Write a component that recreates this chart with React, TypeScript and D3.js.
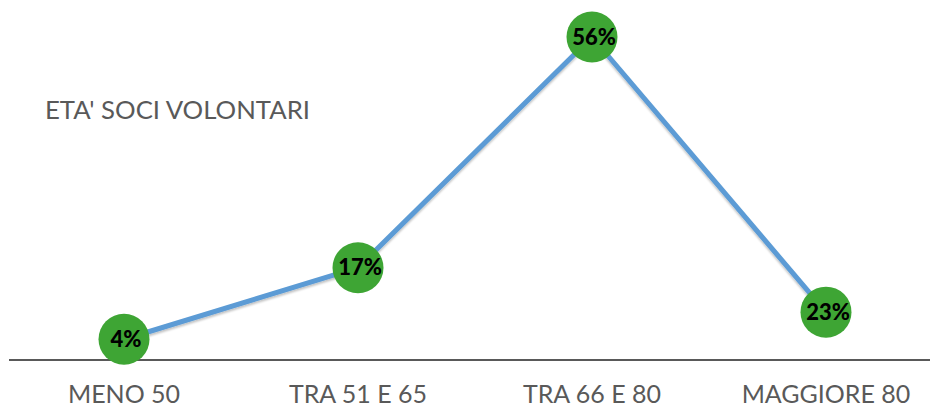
import React from "react";
import * as d3 from "d3";

const title = "ETA' SOCI VOLONTARI";
const categories = ["MENO 50", "TRA 51 E 65", "TRA 66 E 80", "MAGGIORE 80"];
// percentages shown in the data labels
const labelValues = [4, 17, 56, 23];
// vertical positions of the markers as drawn in the picture (same units)
const plotted = [3.6, 16, 56, 8.3];

const W = 930;
const H = 407;

export default function App() {
  const x = d3.scalePoint<string>().domain(categories).range([124, 826]);
  const y = d3.scaleLinear().domain([0, 56]).range([360, 37]);
  const pts = categories.map((c, i) => [x(c) as number, y(plotted[i])] as [number, number]);
  const line = d3.line().x((d) => d[0]).y((d) => d[1]);
  const fmt = (v: number) => `${v}%`;

  return (
    <svg
      width={W}
      height={H}
      style={{ position: "absolute", left: 0, top: 0, background: "#fff" }}
    >
      <defs>
        <filter id="sh" x="-10%" y="-10%" width="120%" height="120%">
          <feGaussianBlur in="SourceAlpha" stdDeviation="1.2" />
          <feOffset dx="0" dy="1.5" result="b" />
          <feComponentTransfer>
            <feFuncA type="linear" slope="0.25" />
          </feComponentTransfer>
          <feMerge>
            <feMergeNode />
            <feMergeNode in="SourceGraphic" />
          </feMerge>
        </filter>
      </defs>
      <text
        x={45}
        y={119}
        fill="#595959"
        style={{ fontFamily: "Lato, 'Open Sans', sans-serif", fontSize: 24.5 }}
        textLength={265}
        lengthAdjust="spacingAndGlyphs"
      >
        {title}
      </text>
      <line x1={9} x2={930} y1={360} y2={360} stroke="#595959" strokeWidth={2.2} />
      {categories.map((c) => (
        <text
          key={c}
          x={x(c)}
          y={403}
          textAnchor="middle"
          fill="#595959"
          style={{ fontFamily: "Lato, 'Open Sans', sans-serif", fontSize: 25 }}
        >
          {c}
        </text>
      ))}
      <path
        d={line(pts) || ""}
        fill="none"
        stroke="#5b9bd5"
        strokeWidth={5}
        strokeLinejoin="round"
        filter="url(#sh)"
      />
      {pts.map((p, i) => (
        <g key={i}>
          <circle cx={p[0]} cy={p[1]} r={25.5} fill="#3ea534" />
          <text
            x={p[0] + 2}
            y={p[1] + 7.5}
            textAnchor="middle"
            fill="#000"
            style={{ fontFamily: "Lato, sans-serif", fontSize: 22, fontWeight: 900 }}
          >
            {fmt(labelValues[i])}
          </text>
        </g>
      ))}
    </svg>
  );
}
